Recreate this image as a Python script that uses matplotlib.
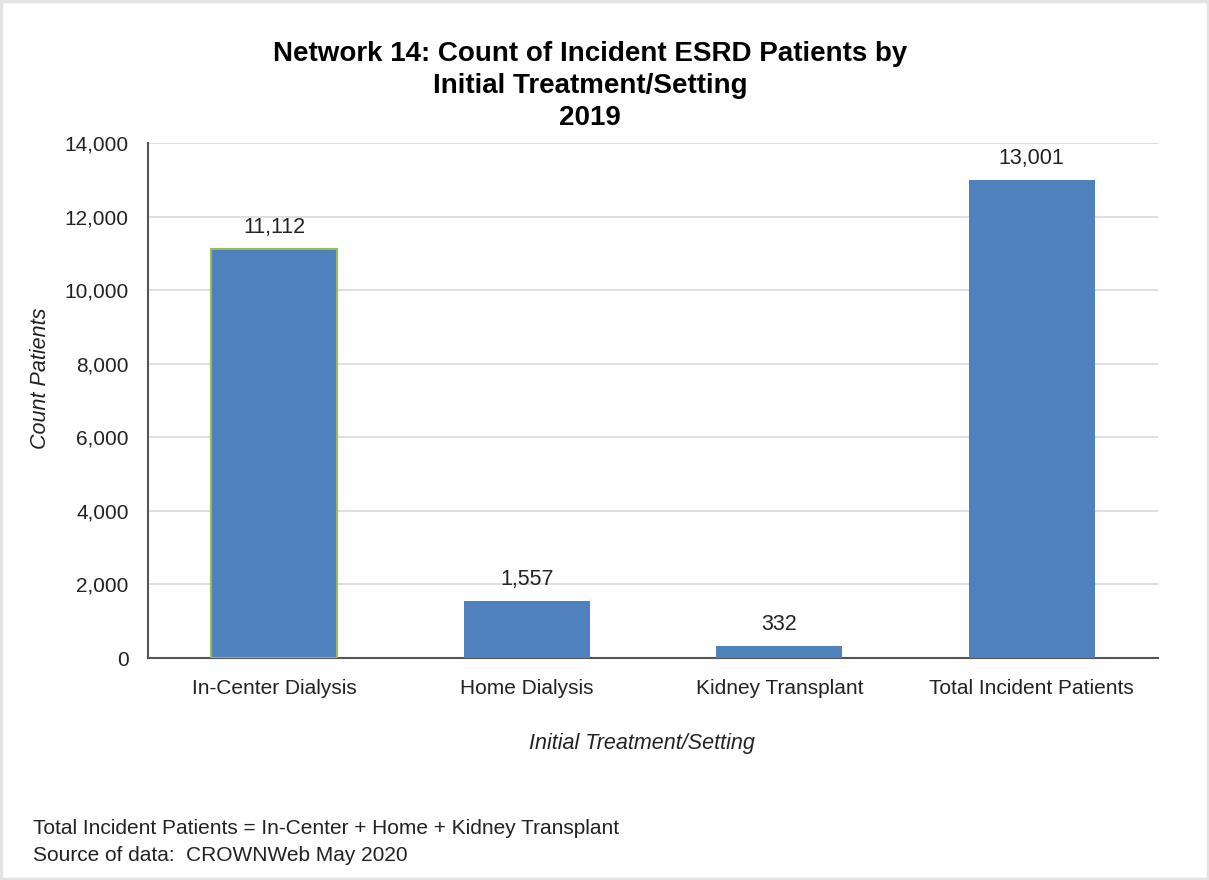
import matplotlib
matplotlib.use("Agg")
import matplotlib.pyplot as plt
from matplotlib.patches import Rectangle

categories = ["In-Center Dialysis", "Home Dialysis", "Kidney Transplant", "Total Incident Patients"]
values = [11112, 1557, 332, 13001]
value_labels = ["11,112", "1,557", "332", "13,001"]
yticks = [0, 2000, 4000, 6000, 8000, 10000, 12000, 14000]
ytick_labels = ["0", "2,000", "4,000", "6,000", "8,000", "10,000", "12,000", "14,000"]

plt.rcParams['font.family'] = ['Liberation Sans', 'DejaVu Sans']

fig = plt.figure(figsize=(12.09, 8.8), dpi=100)
ax = fig.add_axes([148/1209, 1-658/880, (1158-148)/1209, (658-143)/880])

x = list(range(len(categories)))
bars = ax.bar(x, values, width=0.5, color="#4F81BD", zorder=3)
bars[0].set_edgecolor("#9BBB59")
bars[0].set_linewidth(1.5)

for xi, v, lab in zip(x, values, value_labels):
    ax.annotate(lab, (xi, v), xytext=(0, 8), textcoords="offset points",
                ha="center", va="bottom", fontsize=15.5, color="#222222")

ax.set_xlim(-0.5, 3.5)
ax.set_ylim(0, 14000)
ax.set_yticks(yticks)
ax.set_yticklabels(ytick_labels, fontsize=15, color="#222222")
ax.set_xticks(x)
ax.set_xticklabels(categories, fontsize=15, color="#222222")
ax.tick_params(axis='both', length=0)
ax.tick_params(axis='y', pad=14)
ax.tick_params(axis='x', pad=15)
ax.yaxis.grid(True, color="#D9D9D9", linewidth=1.2, zorder=0)
for s in ["top", "right"]:
    ax.spines[s].set_visible(False)
for s in ["left", "bottom"]:
    ax.spines[s].set_color("#555555")
    ax.spines[s].set_linewidth(1.5)

fig.text(40/1209, 1-378/880, "Count Patients", rotation=90, fontsize=15.5,
         style="italic", ha="center", va="center", color="#222222")
fig.text(642/1209, 1-743/880, "Initial Treatment/Setting", fontsize=15.5,
         style="italic", ha="center", va="center", color="#222222")

fig.text(590/1209, 1-86/880, "Network 14: Count of Incident ESRD Patients by\nInitial Treatment/Setting\n2019",
         fontsize=20, fontweight="bold", ha="center", va="center", linespacing=1.3, color="#000000")

fig.text(33/1209, 1-828/880, "Total Incident Patients = In-Center + Home + Kidney Transplant",
         fontsize=15, ha="left", va="center", color="#222222")
fig.text(33/1209, 1-855/880, "Source of data:  CROWNWeb May 2020",
         fontsize=15, ha="left", va="center", color="#222222")

fig.patches.append(Rectangle((0.001, 0.0015), 0.998, 0.997, transform=fig.transFigure,
                             fill=False, edgecolor="#E3E3E3", linewidth=2.5, zorder=10))

fig.savefig("out.png", dpi=100)
